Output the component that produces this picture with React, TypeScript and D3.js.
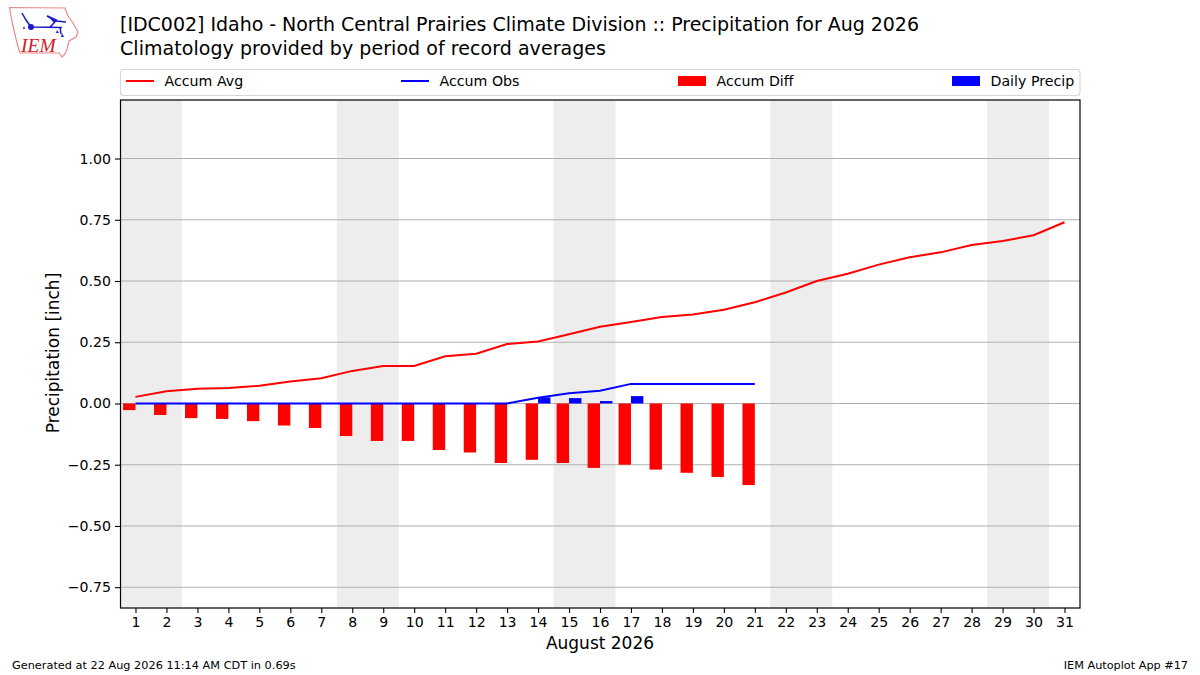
import { useEffect, useRef } from 'react';
import * as d3 from 'd3';

const days = d3.range(1, 32);
const weekendStarts = [1, 8, 15, 22, 29];
const yTicks = [-0.75, -0.5, -0.25, 0, 0.25, 0.5, 0.75, 1.0];

const accumAvg = [
  0.027, 0.05, 0.06, 0.063, 0.072, 0.09, 0.103, 0.133, 0.153, 0.153, 0.193, 0.203, 0.243, 0.253, 0.283,
  0.313, 0.333, 0.353, 0.363, 0.383, 0.413, 0.453, 0.5, 0.53, 0.567, 0.597, 0.617, 0.647, 0.663, 0.687, 0.74
];
const accumObs = [0, 0, 0, 0, 0, 0, 0, 0, 0, 0, 0, 0, 0, 0.023, 0.042, 0.052, 0.08, 0.08, 0.08, 0.08, 0.08];
const accumDiff = [
  -0.027, -0.047, -0.06, -0.063, -0.072, -0.09, -0.1, -0.133, -0.153, -0.153, -0.19, -0.2, -0.243, -0.23,
  -0.243, -0.263, -0.25, -0.27, -0.283, -0.3, -0.333
];
const dailyPrecip = [0, 0, 0, 0, 0, 0, 0, 0, 0, 0, 0, 0, 0, 0.025, 0.022, 0.01, 0.03, 0, 0, 0, 0];

const titleLines = [
  '[IDC002] Idaho - North Central Prairies Climate Division :: Precipitation for Aug 2026',
  'Climatology provided by period of record averages'
];
const titleWidths = [799, 486];
const legendItems = [
  { label: 'Accum Avg', color: '#ff0000', kind: 'line', x: 126 },
  { label: 'Accum Obs', color: '#0000ff', kind: 'line', x: 401 },
  { label: 'Accum Diff', color: '#ff0000', kind: 'bar', x: 678 },
  { label: 'Daily Precip', color: '#0000ff', kind: 'bar', x: 952 }
];

const FONT = '"DejaVu Sans", sans-serif';
const margin = { top: 100, right: 120, bottom: 67, left: 120 };
const width = 1200;
const height = 675;

export default function App() {
  const svgRef = useRef<SVGSVGElement>(null);

  useEffect(() => {
    const svg = d3.select(svgRef.current);
    svg.selectAll('*').remove();

    const x = d3.scaleLinear().domain([0.5, 31.5]).range([margin.left, width - margin.right]);
    const y = d3.scaleLinear().domain([-0.835, 1.239]).range([height - margin.bottom, margin.top]);
    const barWidth = x(1.4) - x(1);

    svg.append('rect').attr('width', width).attr('height', height).attr('fill', '#fff');

    // weekends
    svg
      .append('g')
      .selectAll('rect')
      .data(weekendStarts)
      .enter()
      .append('rect')
      .attr('x', (d) => x(d - 0.5))
      .attr('width', (d) => x(d + 1.5) - x(d - 0.5))
      .attr('y', margin.top)
      .attr('height', height - margin.top - margin.bottom)
      .attr('fill', '#ededed');

    // grid
    svg
      .append('g')
      .selectAll('line')
      .data(yTicks)
      .enter()
      .append('line')
      .attr('x1', margin.left)
      .attr('x2', width - margin.right)
      .attr('y1', (d) => y(d))
      .attr('y2', (d) => y(d))
      .attr('stroke', '#b0b0b0')
      .attr('stroke-width', 1.1);

    // bars
    svg
      .append('g')
      .selectAll('rect')
      .data(accumDiff)
      .enter()
      .append('rect')
      .attr('x', (_, i) => x(days[i]) - barWidth)
      .attr('width', barWidth)
      .attr('y', y(0))
      .attr('height', (d) => y(d) - y(0))
      .attr('fill', '#ff0000');

    svg
      .append('g')
      .selectAll('rect')
      .data(dailyPrecip)
      .enter()
      .append('rect')
      .attr('x', (_, i) => x(days[i]))
      .attr('width', barWidth)
      .attr('y', (d) => y(d))
      .attr('height', (d) => y(0) - y(d))
      .attr('fill', '#0000ff');

    const lineGen = d3
      .line<number>()
      .x((_, i) => x(days[i]))
      .y((d) => y(d));

    svg
      .append('path')
      .attr('d', lineGen(accumAvg))
      .attr('fill', 'none')
      .attr('stroke', '#ff0000')
      .attr('stroke-width', 2);
    svg
      .append('path')
      .attr('d', lineGen(accumObs))
      .attr('fill', 'none')
      .attr('stroke', '#0000ff')
      .attr('stroke-width', 2);

    // frame
    svg
      .append('rect')
      .attr('x', margin.left + 0.5)
      .attr('y', margin.top)
      .attr('width', width - margin.left - margin.right - 0.5)
      .attr('height', height - margin.top - margin.bottom)
      .attr('fill', 'none')
      .attr('stroke', '#000')
      .attr('stroke-width', 1.2);

    // axes
    const xAxis = svg
      .append('g')
      .attr('transform', `translate(0,${height - margin.bottom})`)
      .call(d3.axisBottom(x).tickValues(days).tickFormat(d3.format('d')).tickSize(5).tickPadding(4));
    const yAxis = svg
      .append('g')
      .attr('transform', `translate(${margin.left},0)`)
      .call(d3.axisLeft(y).tickValues(yTicks).tickFormat((d) => d3.format('.2f')(d as number).replace('-', '\u2212')).tickSize(5).tickPadding(4));
    [xAxis, yAxis].forEach((axis) => {
      axis.select('.domain').remove();
      axis.selectAll('.tick line').attr('stroke', '#000').attr('stroke-width', 1.1);
      axis.selectAll('.tick text').attr('fill', '#000').style('font-family', FONT).style('font-size', '14.1px');
    });

    svg
      .append('text')
      .attr('x', 600)
      .attr('y', 649)
      .attr('text-anchor', 'middle')
      .style('font-size', '17px')
      .text('August 2026');
    svg
      .append('text')
      .attr('transform', 'translate(59,353) rotate(-90)')
      .attr('text-anchor', 'middle')
      .style('font-size', '17px')
      .text('Precipitation [inch]');

    // titles
    svg
      .append('g')
      .selectAll('text')
      .data(titleLines)
      .enter()
      .append('text')
      .attr('x', 120)
      .attr('y', (_, i) => 31 + i * 23.5)
      .attr('textLength', (_, i) => titleWidths[i])
      .style('font-size', '19px')
      .text((d) => d);

    // legend
    svg
      .append('rect')
      .attr('x', 120.5)
      .attr('y', 69.5)
      .attr('width', 959.5)
      .attr('height', 26)
      .attr('rx', 3)
      .attr('fill', '#fff')
      .attr('stroke', '#d6d6d6')
      .attr('stroke-width', 1.1);
    const legend = svg
      .append('g')
      .selectAll('g')
      .data(legendItems)
      .enter()
      .append('g')
      .attr('transform', (d) => `translate(${d.x},0)`);
    legend
      .filter((d) => d.kind === 'line')
      .append('line')
      .attr('x2', 28)
      .attr('y1', 81)
      .attr('y2', 81)
      .attr('stroke', (d) => d.color)
      .attr('stroke-width', 2);
    legend
      .filter((d) => d.kind === 'bar')
      .append('rect')
      .attr('y', 76)
      .attr('width', 28)
      .attr('height', 10)
      .attr('fill', (d) => d.color);
    legend
      .append('text')
      .attr('x', 38.5)
      .attr('y', 86)
      .style('font-size', '14.2px')
      .text((d) => d.label);

    // footer
    svg.append('text').attr('x', 12).attr('y', 669).style('font-size', '11.3px').text('Generated at 22 Aug 2026 11:14 AM CDT in 0.69s');
    svg
      .append('text')
      .attr('x', 1188)
      .attr('y', 669)
      .attr('text-anchor', 'end')
      .style('font-size', '11.25px')
      .text('IEM Autoplot App #17');

    // logo
    const logo = svg.append('g');
    logo
      .append('path')
      .attr('d', 'M9.5 7.5 L65 8 L68 16 L73 23 L78 32 L76 37 L69 41 L67 49 L65 54 L62 57 L59 53 L20 53 L17 43 L13 26 L11 16 Z')
      .attr('fill', '#fff')
      .attr('stroke', '#e88a8a')
      .attr('stroke-width', 1.2);
    logo
      .append('path')
      .attr('d', 'M31 27 L62 27.5 M55 22 L50 27 M22 13 L26 20 L31 27 M60 27 L61 34 M47 16 L56 21 L66 22')
      .attr('fill', 'none')
      .attr('stroke', '#1a1acc')
      .attr('stroke-width', 1.5);
    logo.append('circle').attr('cx', 31).attr('cy', 27).attr('r', 3).attr('fill', '#1a1acc');
    logo.append('path').attr('d', 'M47 15 L58 20 L54 23 Z').attr('fill', '#1a1acc');
    logo.append('path').attr('d', 'M24 26 L25 29 L23 29 Z M57 30 L59 33 L56 33 Z M62 33 L64 37 L61 37 Z').attr('fill', '#1a1acc');
    logo
      .append('text')
      .attr('x', 21)
      .attr('y', 52)
      .attr('fill', '#d42027')
      .style('font-family', '"Liberation Serif", serif')
      .style('font-style', 'italic')
      .style('font-size', '19.5px')
      .text('IEM');
  }, []);

  return (
    <svg
      ref={svgRef}
      width={width}
      height={height}
      style={{ position: 'absolute', top: 0, left: 0, fontFamily: FONT }}
    />
  );
}
